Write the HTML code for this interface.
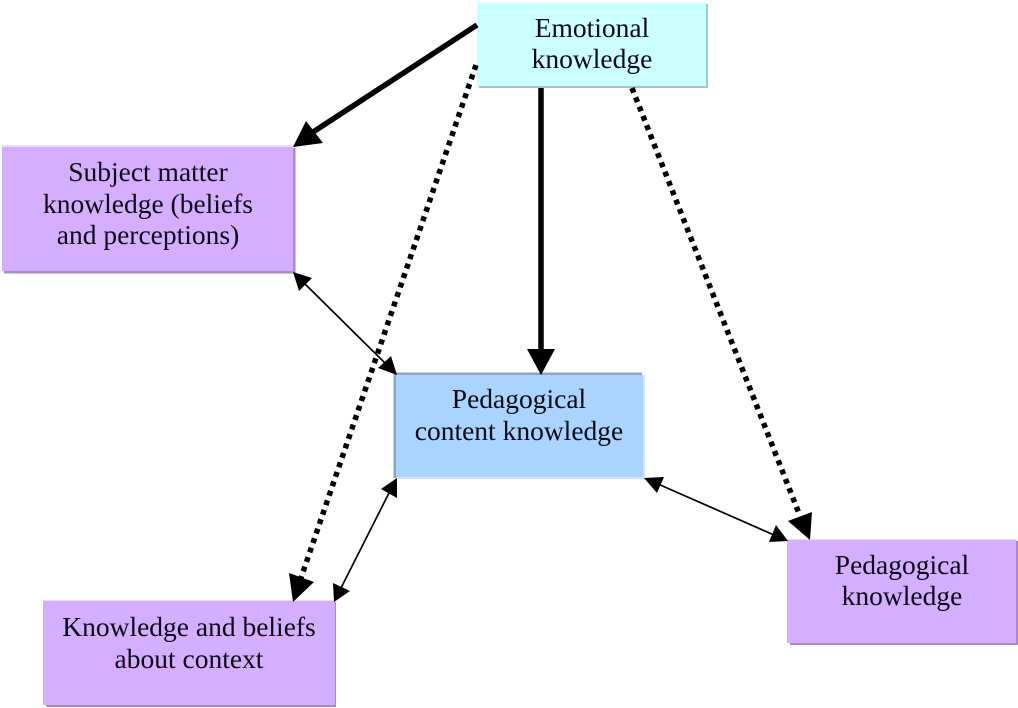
<!DOCTYPE html>
<html>
<head>
<meta charset="utf-8">
<style>
html,body{margin:0;padding:0;background:#fff;width:1018px;height:708px;overflow:hidden}
svg{display:block;filter:blur(0.35px)}
text{font-family:"Liberation Serif",serif;font-size:27.5px;fill:#0a0a14;text-anchor:middle}
</style>
</head>
<body>
<svg width="1018" height="708" viewBox="0 0 1018 708" xmlns="http://www.w3.org/2000/svg">
<!-- Emotional knowledge -->
<rect x="477" y="2" width="231" height="1.5" fill="#e6ffff"/>
<rect x="706" y="4" width="2" height="84" fill="#a3c4c8"/>
<rect x="479" y="86" width="229" height="2" fill="#a3c4c8"/>
<rect x="477" y="3" width="229" height="83" fill="#ccffff"/>
<!-- Subject matter -->
<rect x="1" y="145" width="293" height="2" fill="#eedcff"/>
<rect x="293" y="148" width="2.5" height="125" fill="#a98cc6"/>
<rect x="4" y="271" width="291" height="2.5" fill="#a98cc6"/>
<rect x="2" y="147" width="291" height="124" fill="#d6aeff"/>
<!-- Pedagogical content knowledge -->
<rect x="394" y="372.5" width="248" height="2.5" fill="#8ba6c0"/>
<rect x="393.5" y="374" width="2.5" height="104" fill="#8ba6c0"/>
<rect x="642" y="375" width="3" height="103" fill="#cde6ff"/>
<rect x="396" y="477" width="249" height="2" fill="#cde6ff"/>
<rect x="396" y="375" width="247" height="102" fill="#a8d4ff"/>
<!-- Pedagogical knowledge -->
<rect x="787" y="539" width="230" height="2" fill="#eedcff"/>
<rect x="1015" y="541" width="3" height="104" fill="#a98cc6"/>
<rect x="790" y="643" width="228" height="2" fill="#a98cc6"/>
<rect x="787" y="540" width="229" height="103" fill="#d6aeff"/>
<!-- Knowledge and beliefs -->
<rect x="43" y="600" width="292" height="2" fill="#eedcff"/>
<rect x="334" y="602" width="2" height="105" fill="#a98cc6"/>
<rect x="46" y="705" width="290" height="2" fill="#a98cc6"/>
<rect x="43" y="601" width="292" height="104" fill="#d6aeff"/>

<!-- Thick solid arrows -->
<line x1="477" y1="25" x2="310" y2="134" stroke="#000" stroke-width="5.5"/>
<polygon points="293,147 306,121 323,143" fill="#000"/>
<line x1="541" y1="88" x2="541" y2="352" stroke="#000" stroke-width="5.5"/>
<polygon points="541,375 527,349 555,349" fill="#000"/>

<!-- Dotted arrows -->
<line x1="476" y1="65" x2="301" y2="578" stroke="#000" stroke-width="5.5" stroke-dasharray="5 5"/>
<polygon points="293,602 289,573 314,582" fill="#000"/>
<line x1="632" y1="88" x2="800" y2="516" stroke="#000" stroke-width="5.5" stroke-dasharray="5 5"/>
<polygon points="810,540 788,521 812,512" fill="#000"/>

<!-- Thin double arrows -->
<line x1="303" y1="282" x2="387" y2="365" stroke="#000" stroke-width="1.7"/>
<polygon points="293,272 312,278 299,291" fill="#000"/>
<polygon points="397,375 378,368 391,356" fill="#000"/>
<line x1="390" y1="491" x2="341" y2="588" stroke="#000" stroke-width="1.7"/>
<polygon points="397,478 381,489 397,498" fill="#000"/>
<polygon points="334,602 333,583 350,591" fill="#000"/>
<line x1="658" y1="484" x2="774" y2="535" stroke="#000" stroke-width="1.7"/>
<polygon points="644,478 664,477 657,493" fill="#000"/>
<polygon points="788,541 769,542 776,525" fill="#000"/>

<!-- Labels -->
<text x="592" y="37">Emotional</text>
<text x="592" y="68">knowledge</text>
<text x="148" y="181">Subject matter</text>
<text x="148" y="213">knowledge (beliefs</text>
<text x="148" y="244">and perceptions)</text>
<text x="519" y="408">Pedagogical</text>
<text x="519" y="440">content knowledge</text>
<text x="902" y="574">Pedagogical</text>
<text x="902" y="605">knowledge</text>
<text x="189" y="636">Knowledge and beliefs</text>
<text x="189" y="668">about context</text>
</svg>
</body>
</html>
